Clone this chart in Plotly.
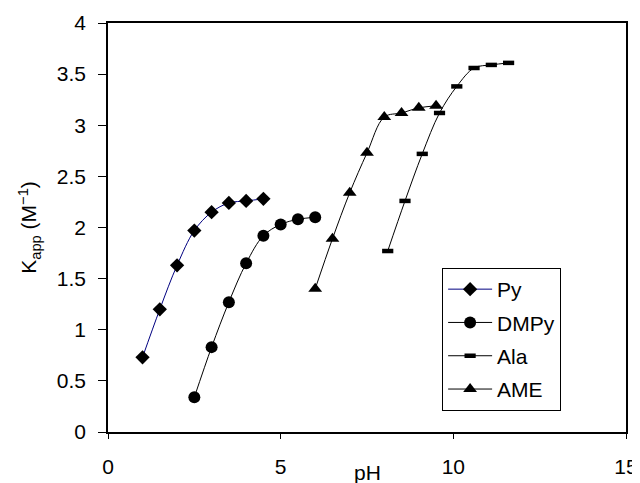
import plotly.graph_objects as go

py_x = [1, 1.5, 2, 2.5, 3, 3.5, 4, 4.5]
py_y = [0.73, 1.20, 1.63, 1.97, 2.15, 2.24, 2.26, 2.28]

dmpy_x = [2.5, 3, 3.5, 4, 4.5, 5, 5.5, 6]
dmpy_y = [0.34, 0.83, 1.27, 1.65, 1.92, 2.03, 2.08, 2.10]

ala_x = [8.1, 8.6, 9.1, 9.6, 10.1, 10.6, 11.1, 11.6]
ala_y = [1.77, 2.26, 2.72, 3.12, 3.38, 3.56, 3.59, 3.61]

ame_x = [6, 6.5, 7, 7.5, 8, 8.5, 9, 9.5]
ame_y = [1.40, 1.89, 2.34, 2.73, 3.08, 3.12, 3.17, 3.19]

font = "Arial, Liberation Sans, sans-serif"

fig = go.Figure()
fig.add_trace(go.Scatter(x=py_x, y=py_y, name="Py", mode="lines+markers", legendgroup="a",
                         line=dict(color="#000080", width=1, shape="spline"),
                         marker=dict(symbol="diamond", size=11, color="black")))
fig.add_trace(go.Scatter(x=dmpy_x, y=dmpy_y, name="DMPy", mode="lines+markers", legendgroup="b",
                         line=dict(color="black", width=1, shape="spline"),
                         marker=dict(symbol="circle", size=12, color="black")))
fig.add_trace(go.Scatter(x=ala_x, y=ala_y, name="Ala", mode="lines+markers", legendgroup="c",
                         line=dict(color="black", width=1, shape="spline"),
                         marker=dict(symbol="line-ew", size=8, color="black",
                                     line=dict(color="black", width=4.5))))
fig.add_trace(go.Scatter(x=ame_x, y=ame_y, name="AME", mode="lines+markers", legendgroup="d",
                         line=dict(color="black", width=1, shape="spline"),
                         marker=dict(symbol="triangle-up", size=12, color="black")))

fig.update_layout(
    width=640, height=483,
    margin=dict(l=100, r=22, t=15, b=59),
    paper_bgcolor="white", plot_bgcolor="white",
    font=dict(family=font, size=21, color="black"),
    showlegend=True,
    legend=dict(x=0.645, y=0.401, xanchor="left", yanchor="top",
                bordercolor="black", borderwidth=1, bgcolor="white",
                font=dict(size=21), tracegroupgap=3, itemwidth=44),
    xaxis=dict(range=[0, 15], tickvals=[0, 5, 10, 15], showgrid=False, zeroline=False,
               showline=True, linecolor="black", linewidth=1.5, mirror=True, automargin=False,
               ticks="outside", ticklen=5, tickcolor="black", ticklabelstandoff=10),
    yaxis=dict(range=[0, 4], tickvals=[0, 0.5, 1, 1.5, 2, 2.5, 3, 3.5, 4],
               ticktext=["0", "0.5", "1", "1.5", "2", "2.5", "3", "3.5", "4"],
               showgrid=False, zeroline=False, automargin=False,
               showline=True, linecolor="black", linewidth=1.5, mirror=True,
               ticks="outside", ticklen=8, tickcolor="black", ticklabelstandoff=8,
               title=dict(text="K<sub>app</sub> (M<sup>−1</sup>)", font=dict(size=21), standoff=14)),
)
fig.add_annotation(text="pH", xref="paper", yref="paper", x=0.5, y=-0.1,
                   showarrow=False, font=dict(size=21), yanchor="middle")

fig.write_html("out.html")
